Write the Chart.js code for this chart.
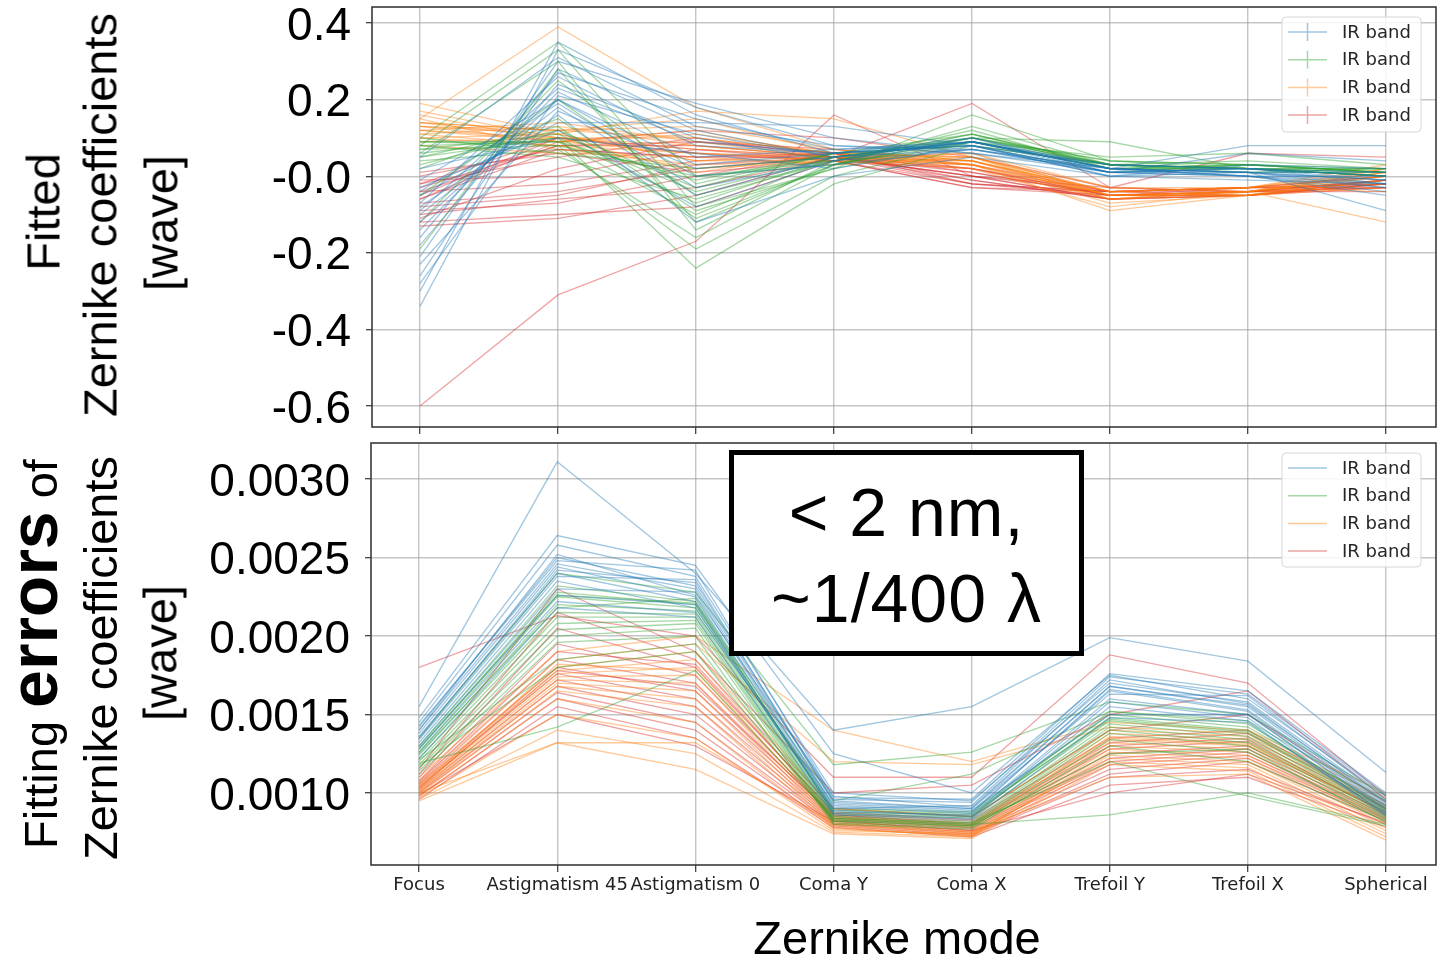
<!DOCTYPE html>
<html>
<head>
<meta charset="utf-8">
<script src="https://cdn.jsdelivr.net/npm/chart.js@4.4.0/dist/chart.umd.min.js"></script>
<style>
  html, body { margin:0; padding:0; background:#fff; }
  body { width:1441px; height:958px; position:relative; overflow:hidden; font-family:'Liberation Sans', Arial, sans-serif; }
  canvas { position:absolute; left:0; }
  #c1 { top:0; }
  #c2 { top:440px; }
  .ytitle { position:absolute; white-space:nowrap; font-size:47px; line-height:47px; color:#000;
            transform:translate(-50%,-50%) rotate(-90deg); }
  .ytitle b { font-size:68px; line-height:0; font-weight:bold; }
  #xtitle { position:absolute; left:897px; top:937px; transform:translate(-50%,-50%); font-size:47px; line-height:47px; white-space:nowrap; }
  #note { position:absolute; left:729px; top:450px; width:345px; height:196px; border:5px solid #000; background:#fff; }
  #note div { position:absolute; left:0; width:100%; text-align:center; font-size:68px; line-height:68px; letter-spacing:1px; white-space:nowrap; transform:translateY(-50%); }
</style>
</head>
<body>
<canvas id="c1" width="1441" height="440"></canvas>
<canvas id="c2" width="1441" height="518"></canvas>

<div class="ytitle" style="left:43px; top:212px;">Fitted</div>
<div class="ytitle" style="left:100px; top:215px;">Zernike coefficients</div>
<div class="ytitle" style="left:161px; top:223px;">[wave]</div>

<div class="ytitle" style="left:40px; top:654px;">Fitting <b>errors</b> of</div>
<div class="ytitle" style="left:100px; top:658px;">Zernike coefficients</div>
<div class="ytitle" style="left:160px; top:653px;">[wave]</div>

<div id="xtitle">Zernike mode</div>
<div id="note"><div style="top:57px;">&lt; 2 nm,</div><div style="top:143px;">~1/400 λ</div></div>

<script>
// ---------------- data ----------------
const categories = ['Focus', 'Astigmatism 45', 'Astigmatism 0', 'Coma Y', 'Coma X', 'Trefoil Y', 'Trefoil X', 'Spherical'];
const legendLabels = ['IR band', 'IR band', 'IR band', 'IR band'];

const topTickValues = [-0.6, -0.4, -0.2, 0.0, 0.2, 0.4];
const topTickLabels = ['-0.6', '-0.4', '-0.2', '-0.0', '0.2', '0.4'];
const botTickValues = [0.0010, 0.0015, 0.0020, 0.0025, 0.0030];
const botTickLabels = ['0.0010', '0.0015', '0.0020', '0.0025', '0.0030'];

// Fitted Zernike coefficients [wave]
const fitBlue = [
  [-0.34, 0.33, 0.18, 0.08, 0.07, 0.02, 0.01, -0.09],
  [-0.30, 0.35, 0.16, 0.06, 0.08, 0.01, 0.00, -0.05],
  [-0.26, 0.28, 0.12, 0.05, 0.09, 0.03, 0.02, -0.02],
  [-0.21, 0.30, 0.19, 0.10, 0.06, 0.02, 0.08, 0.08],
  [-0.18, 0.24, 0.10, 0.04, 0.10, 0.01, 0.06, 0.04],
  [-0.14, 0.22, 0.05, 0.07, 0.08, 0.00, 0.01, -0.01],
  [-0.12, 0.20, 0.00, 0.03, 0.07, 0.02, 0.00, -0.03],
  [-0.10, 0.18, -0.05, 0.05, 0.09, 0.01, 0.02, 0.00],
  [-0.08, 0.16, -0.12, 0.00, 0.05, 0.00, -0.01, -0.02],
  [-0.07, 0.26, 0.08, 0.06, 0.10, 0.02, 0.01, 0.01],
  [-0.05, 0.14, 0.14, 0.13, 0.08, 0.03, 0.02, 0.00],
  [-0.03, 0.12, -0.08, 0.04, 0.07, 0.01, 0.00, -0.04],
  [-0.01, 0.20, 0.03, 0.06, 0.09, 0.02, 0.01, -0.02],
  [0.02, 0.10, 0.06, 0.02, 0.08, 0.00, 0.03, 0.02],
  [0.05, 0.31, 0.13, 0.08, 0.06, 0.01, 0.02, -0.01],
  [-0.23, 0.17, 0.02, 0.05, 0.09, 0.02, 0.00, 0.00],
  [-0.16, 0.27, 0.15, 0.07, 0.09, 0.02, 0.01, -0.01],
  [-0.09, 0.23, 0.09, 0.06, 0.08, 0.01, 0.02, 0.01],
  [-0.04, 0.19, -0.03, 0.04, 0.09, 0.02, 0.00, -0.02],
  [-0.28, 0.21, 0.11, 0.05, 0.07, 0.01, 0.01, -0.03]
];
const fitGreen = [
  [0.10, 0.35, 0.00, 0.03, 0.13, 0.03, 0.02, 0.00],
  [0.08, 0.33, -0.08, 0.02, 0.16, 0.04, 0.03, 0.01],
  [0.06, 0.30, -0.14, 0.04, 0.10, 0.09, 0.02, 0.00],
  [0.05, 0.10, -0.24, -0.02, 0.08, 0.03, 0.01, 0.02],
  [0.07, 0.08, -0.19, 0.00, 0.09, 0.02, 0.02, 0.01],
  [0.04, 0.07, -0.16, 0.03, 0.10, 0.04, 0.03, 0.02],
  [0.09, 0.09, -0.10, 0.05, 0.09, 0.03, 0.02, 0.00],
  [0.08, 0.05, -0.06, 0.04, 0.11, 0.02, 0.01, 0.01],
  [0.03, 0.12, -0.03, 0.06, 0.08, 0.03, 0.04, 0.02],
  [0.10, 0.06, 0.02, 0.05, 0.10, 0.04, 0.02, 0.00],
  [0.02, 0.15, -0.09, 0.02, 0.09, 0.02, 0.03, 0.01],
  [-0.05, 0.20, -0.05, 0.04, 0.11, 0.03, 0.02, 0.02],
  [-0.12, 0.25, -0.02, 0.06, 0.08, 0.01, 0.03, 0.01],
  [-0.19, 0.28, -0.12, 0.03, 0.10, 0.03, 0.02, 0.00],
  [0.06, 0.10, -0.07, 0.05, 0.09, 0.05, 0.06, 0.03],
  [0.09, 0.08, 0.00, 0.04, 0.12, 0.02, 0.02, 0.01],
  [0.07, 0.11, -0.04, 0.05, 0.10, 0.03, 0.02, 0.02],
  [0.05, 0.13, -0.11, 0.03, 0.09, 0.02, 0.03, 0.01],
  [0.08, 0.09, -0.01, 0.06, 0.11, 0.03, 0.02, 0.00]
];
const fitOrange = [
  [0.19, 0.11, 0.17, 0.15, 0.05, -0.03, -0.04, -0.12],
  [0.15, 0.39, 0.18, 0.07, 0.04, -0.04, -0.03, -0.04],
  [0.14, 0.12, 0.15, 0.06, 0.03, -0.05, -0.05, -0.02],
  [0.13, 0.09, 0.12, 0.05, 0.02, -0.06, -0.04, 0.00],
  [0.12, 0.10, 0.10, 0.06, 0.05, -0.04, -0.03, 0.01],
  [0.11, 0.13, 0.08, 0.05, 0.04, -0.05, -0.04, 0.02],
  [0.10, 0.08, 0.06, 0.04, 0.03, -0.07, -0.05, -0.01],
  [0.13, 0.11, 0.04, 0.05, 0.06, -0.03, -0.03, 0.03],
  [0.15, 0.07, 0.03, 0.04, 0.02, -0.08, -0.04, -0.03],
  [0.09, 0.10, 0.01, 0.06, 0.05, -0.04, -0.05, 0.00],
  [0.12, 0.14, 0.09, 0.05, 0.04, -0.06, -0.03, -0.02],
  [0.16, 0.09, 0.11, 0.06, 0.03, -0.09, -0.05, -0.01],
  [0.08, 0.06, 0.05, 0.03, 0.05, -0.05, -0.04, 0.01],
  [0.14, 0.12, 0.13, 0.07, 0.04, -0.04, -0.03, 0.02],
  [0.11, 0.08, 0.02, 0.04, 0.06, -0.05, -0.04, 0.00],
  [0.17, 0.10, 0.07, 0.05, 0.03, -0.06, -0.05, -0.03],
  [0.13, 0.12, 0.10, 0.06, 0.04, -0.05, -0.04, 0.01],
  [0.12, 0.09, 0.06, 0.05, 0.05, -0.06, -0.04, -0.01],
  [0.14, 0.10, 0.08, 0.05, 0.03, -0.05, -0.05, 0.02],
  [0.10, 0.11, 0.04, 0.04, 0.04, -0.04, -0.03, 0.00]
];
const fitRed = [
  [-0.60, -0.31, -0.17, 0.16, 0.00, -0.04, -0.03, -0.02],
  [-0.13, -0.11, -0.05, 0.05, 0.19, -0.03, -0.04, -0.01],
  [-0.12, -0.10, -0.08, 0.04, -0.03, -0.05, -0.05, -0.02],
  [-0.10, -0.06, -0.03, 0.05, -0.02, -0.04, -0.03, 0.00],
  [-0.09, -0.07, 0.00, 0.06, -0.01, -0.06, -0.05, -0.03],
  [-0.07, -0.04, 0.02, 0.05, 0.00, -0.03, -0.04, -0.01],
  [-0.05, 0.10, 0.06, 0.04, 0.02, -0.05, -0.05, -0.02],
  [-0.04, -0.02, 0.04, 0.06, -0.02, -0.04, -0.03, 0.00],
  [-0.03, 0.08, 0.08, 0.05, 0.01, -0.05, -0.04, -0.03],
  [-0.02, 0.05, 0.10, 0.05, 0.00, -0.06, -0.05, -0.01],
  [-0.01, 0.00, 0.07, 0.04, -0.03, -0.04, -0.03, -0.02],
  [0.00, 0.07, 0.05, 0.06, 0.02, -0.05, -0.04, -0.04],
  [-0.06, 0.09, 0.12, 0.10, 0.05, -0.03, 0.06, 0.05],
  [-0.08, -0.05, 0.03, 0.05, -0.01, -0.06, -0.05, -0.02],
  [-0.11, 0.02, 0.09, 0.07, 0.03, -0.04, -0.04, -0.01],
  [0.01, 0.06, 0.01, 0.04, -0.02, -0.05, -0.03, -0.03],
  [-0.04, 0.08, 0.09, 0.06, 0.01, -0.05, -0.04, -0.02],
  [-0.02, 0.10, 0.07, 0.05, 0.02, -0.04, -0.05, -0.01],
  [-0.06, 0.07, 0.05, 0.05, 0.00, -0.06, -0.04, -0.03]
];

// Fitting errors of Zernike coefficients [wave]
const errBlue = [
  [0.00155, 0.00311, 0.00240, 0.00140, 0.00155, 0.00199, 0.00184, 0.00113],
  [0.00148, 0.00264, 0.00245, 0.00125, 0.00100, 0.00175, 0.00160, 0.00098],
  [0.00145, 0.00258, 0.00238, 0.00100, 0.00095, 0.00170, 0.00158, 0.00095],
  [0.00142, 0.00250, 0.00232, 0.00095, 0.00090, 0.00168, 0.00155, 0.00092],
  [0.00140, 0.00246, 0.00230, 0.00092, 0.00088, 0.00165, 0.00152, 0.00090],
  [0.00138, 0.00244, 0.00225, 0.00090, 0.00092, 0.00172, 0.00157, 0.00093],
  [0.00136, 0.00240, 0.00222, 0.00088, 0.00086, 0.00160, 0.00150, 0.00088],
  [0.00134, 0.00238, 0.00236, 0.00094, 0.00090, 0.00163, 0.00162, 0.00096],
  [0.00132, 0.00235, 0.00218, 0.00089, 0.00085, 0.00158, 0.00148, 0.00086],
  [0.00130, 0.00230, 0.00228, 0.00091, 0.00087, 0.00166, 0.00153, 0.00091],
  [0.00128, 0.00226, 0.00220, 0.00087, 0.00084, 0.00155, 0.00146, 0.00085],
  [0.00126, 0.00222, 0.00215, 0.00093, 0.00089, 0.00150, 0.00150, 0.00089],
  [0.00135, 0.00242, 0.00234, 0.00096, 0.00094, 0.00174, 0.00163, 0.00099],
  [0.00140, 0.00252, 0.00226, 0.00098, 0.00091, 0.00168, 0.00156, 0.00094],
  [0.00122, 0.00218, 0.00212, 0.00086, 0.00083, 0.00148, 0.00145, 0.00087],
  [0.00143, 0.00248, 0.00242, 0.00097, 0.00096, 0.00176, 0.00165, 0.00100]
];
const errGreen = [
  [0.00135, 0.00240, 0.00228, 0.00118, 0.00126, 0.00158, 0.00150, 0.00098],
  [0.00130, 0.00232, 0.00222, 0.00095, 0.00112, 0.00152, 0.00146, 0.00095],
  [0.00128, 0.00228, 0.00220, 0.00090, 0.00088, 0.00150, 0.00142, 0.00092],
  [0.00126, 0.00225, 0.00218, 0.00088, 0.00086, 0.00148, 0.00140, 0.00090],
  [0.00124, 0.00220, 0.00216, 0.00086, 0.00084, 0.00146, 0.00138, 0.00088],
  [0.00122, 0.00215, 0.00214, 0.00085, 0.00082, 0.00144, 0.00136, 0.00087],
  [0.00120, 0.00212, 0.00212, 0.00084, 0.00081, 0.00142, 0.00134, 0.00086],
  [0.00118, 0.00208, 0.00210, 0.00083, 0.00080, 0.00140, 0.00132, 0.00085],
  [0.00116, 0.00204, 0.00208, 0.00082, 0.00079, 0.00138, 0.00130, 0.00084],
  [0.00114, 0.00200, 0.00205, 0.00081, 0.00078, 0.00134, 0.00126, 0.00083],
  [0.00112, 0.00196, 0.00200, 0.00080, 0.00077, 0.00130, 0.00120, 0.00082],
  [0.00121, 0.00185, 0.00195, 0.00083, 0.00080, 0.00086, 0.00100, 0.00080],
  [0.00119, 0.00142, 0.00178, 0.00084, 0.00081, 0.00120, 0.00098, 0.00079],
  [0.00125, 0.00218, 0.00224, 0.00087, 0.00085, 0.00152, 0.00144, 0.00090],
  [0.00117, 0.00180, 0.00190, 0.00082, 0.00079, 0.00125, 0.00128, 0.00081],
  [0.00129, 0.00226, 0.00221, 0.00089, 0.00087, 0.00147, 0.00139, 0.00089]
];
const errOrange = [
  [0.00110, 0.00190, 0.00200, 0.00140, 0.00120, 0.00145, 0.00140, 0.00100],
  [0.00108, 0.00185, 0.00195, 0.00120, 0.00118, 0.00142, 0.00138, 0.00097],
  [0.00106, 0.00180, 0.00190, 0.00090, 0.00085, 0.00140, 0.00136, 0.00095],
  [0.00105, 0.00178, 0.00185, 0.00085, 0.00080, 0.00138, 0.00134, 0.00092],
  [0.00104, 0.00176, 0.00180, 0.00083, 0.00078, 0.00136, 0.00132, 0.00090],
  [0.00103, 0.00174, 0.00175, 0.00082, 0.00076, 0.00134, 0.00130, 0.00088],
  [0.00102, 0.00172, 0.00170, 0.00081, 0.00075, 0.00132, 0.00128, 0.00086],
  [0.00101, 0.00170, 0.00165, 0.00080, 0.00074, 0.00130, 0.00126, 0.00084],
  [0.00100, 0.00168, 0.00160, 0.00079, 0.00073, 0.00128, 0.00124, 0.00082],
  [0.00099, 0.00165, 0.00155, 0.00078, 0.00072, 0.00126, 0.00122, 0.00080],
  [0.00098, 0.00160, 0.00145, 0.00077, 0.00073, 0.00124, 0.00120, 0.00078],
  [0.00097, 0.00150, 0.00135, 0.00076, 0.00074, 0.00122, 0.00118, 0.00076],
  [0.00096, 0.00140, 0.00125, 0.00075, 0.00072, 0.00120, 0.00116, 0.00074],
  [0.00095, 0.00132, 0.00115, 0.00074, 0.00071, 0.00118, 0.00114, 0.00072],
  [0.00100, 0.00132, 0.00132, 0.00080, 0.00075, 0.00110, 0.00112, 0.00070],
  [0.00103, 0.00182, 0.00178, 0.00084, 0.00079, 0.00135, 0.00131, 0.00089]
];
const errRed = [
  [0.00180, 0.00213, 0.00200, 0.00110, 0.00110, 0.00188, 0.00170, 0.00098],
  [0.00115, 0.00230, 0.00190, 0.00100, 0.00105, 0.00150, 0.00165, 0.00096],
  [0.00112, 0.00215, 0.00185, 0.00090, 0.00085, 0.00140, 0.00150, 0.00094],
  [0.00110, 0.00205, 0.00180, 0.00088, 0.00083, 0.00135, 0.00140, 0.00092],
  [0.00108, 0.00195, 0.00175, 0.00086, 0.00081, 0.00130, 0.00135, 0.00090],
  [0.00106, 0.00185, 0.00170, 0.00085, 0.00079, 0.00125, 0.00130, 0.00088],
  [0.00105, 0.00180, 0.00165, 0.00084, 0.00078, 0.00122, 0.00128, 0.00086],
  [0.00104, 0.00176, 0.00160, 0.00083, 0.00077, 0.00120, 0.00126, 0.00085],
  [0.00102, 0.00172, 0.00155, 0.00082, 0.00076, 0.00118, 0.00124, 0.00084],
  [0.00101, 0.00168, 0.00150, 0.00081, 0.00075, 0.00115, 0.00122, 0.00083],
  [0.00100, 0.00164, 0.00145, 0.00080, 0.00074, 0.00112, 0.00120, 0.00082],
  [0.00098, 0.00160, 0.00140, 0.00079, 0.00073, 0.00110, 0.00115, 0.00080],
  [0.00096, 0.00155, 0.00135, 0.00078, 0.00072, 0.00105, 0.00110, 0.00078],
  [0.00099, 0.00150, 0.00130, 0.00082, 0.00076, 0.00100, 0.00112, 0.00081],
  [0.00103, 0.00178, 0.00168, 0.00086, 0.00080, 0.00128, 0.00133, 0.00087],
  [0.00107, 0.00190, 0.00182, 0.00087, 0.00082, 0.00132, 0.00138, 0.00091]
];

// ---------------- styles ----------------
const bandColors = ['rgba(31,119,180,0.42)', 'rgba(44,160,44,0.42)', 'rgba(255,127,14,0.42)', 'rgba(214,39,40,0.42)'];
const GRID = 'rgba(150,150,150,0.55)';

function makeSets(groups) {
  const sets = [];
  groups.forEach((rows, gi) => {
    rows.forEach(r => {
      sets.push({
        data: r.map((v, i) => ({ x: i, y: v })),
        borderColor: bandColors[gi],
        borderWidth: 1.3,
        pointRadius: 0,
        pointHoverRadius: 0,
        tension: 0,
        fill: false
      });
    });
  });
  return sets;
}

const framePlugin = {
  id: 'frame',
  afterDatasetsDraw(chart) {
    const { ctx, chartArea: a } = chart;
    ctx.save();
    ctx.strokeStyle = '#3a3a3a';
    ctx.lineWidth = 1.6;
    ctx.strokeRect(a.left, a.top, a.right - a.left, a.bottom - a.top);
    ctx.restore();
  }
};

const boxLegendPlugin = {
  id: 'boxLegend',
  afterDraw(chart, args, o) {
    const ctx = chart.ctx;
    ctx.save();
    const r = 4, x = o.x, y = o.y, w = o.w, h = o.h;
    ctx.beginPath();
    ctx.moveTo(x + r, y);
    ctx.lineTo(x + w - r, y); ctx.quadraticCurveTo(x + w, y, x + w, y + r);
    ctx.lineTo(x + w, y + h - r); ctx.quadraticCurveTo(x + w, y + h, x + w - r, y + h);
    ctx.lineTo(x + r, y + h); ctx.quadraticCurveTo(x, y + h, x, y + h - r);
    ctx.lineTo(x, y + r); ctx.quadraticCurveTo(x, y, x + r, y);
    ctx.closePath();
    ctx.fillStyle = 'rgba(255,255,255,0.85)';
    ctx.fill();
    ctx.strokeStyle = '#d6d6d6';
    ctx.lineWidth = 1;
    ctx.stroke();
    ctx.font = '18px "DejaVu Sans"';
    ctx.textBaseline = 'middle';
    ctx.fillStyle = '#262626';
    legendLabels.forEach((lab, i) => {
      const yy = y + 15 + i * 27.7;
      ctx.strokeStyle = bandColors[i];
      ctx.lineWidth = 1.5;
      ctx.beginPath();
      ctx.moveTo(x + 6, yy); ctx.lineTo(x + 45, yy);
      if (o.cross) { ctx.moveTo(x + 25.5, yy - 9); ctx.lineTo(x + 25.5, yy + 9); }
      ctx.stroke();
      ctx.fillText(lab, x + 60, yy + 1);
    });
    ctx.restore();
  }
};

function makeChart(id, groups, yMin, yMax, tickVals, tickLabels, showX, legendPos, padTop, yWidth, xHeight) {
  return new Chart(document.getElementById(id), {
    type: 'line',
    data: { datasets: makeSets(groups) },
    plugins: [framePlugin, boxLegendPlugin],
    options: {
      responsive: false,
      animation: false,
      events: [],
      layout: { padding: { top: padTop, right: 5, left: 0, bottom: 0 } },
      plugins: {
        legend: { display: false },
        tooltip: { enabled: false },
        boxLegend: legendPos
      },
      scales: {
        x: {
          type: 'linear',
          min: -0.348,
          max: 7.362,
          afterBuildTicks: s => { s.ticks = categories.map((c, i) => ({ value: i })); },
          afterFit: s => { s.height = xHeight; s.paddingLeft = 0; s.paddingRight = 0; },
          border: { display: false },
          grid: { color: GRID, lineWidth: 1.4, drawTicks: true, tickLength: 7, tickColor: '#333', tickWidth: 1.2 },
          ticks: {
            display: showX,
            autoSkip: false,
            minRotation: 0,
            maxRotation: 0,
            padding: 3,
            color: '#222',
            font: { family: 'DejaVu Sans', size: 18 },
            callback: (v, i) => categories[i]
          }
        },
        y: {
          min: yMin,
          max: yMax,
          afterBuildTicks: s => { s.ticks = tickVals.map(v => ({ value: v })); },
          afterFit: s => { s.width = yWidth; s.paddingTop = 0; s.paddingBottom = 0; },
          border: { display: false },
          grid: { color: GRID, lineWidth: 1.4, drawTicks: true, tickLength: 6, tickColor: '#333', tickWidth: 1.2 },
          ticks: {
            autoSkip: false,
            padding: 15,
            labelOffset: 4,
            color: '#000',
            font: { family: '"Liberation Sans", Arial', size: 46 },
            callback: (v, i) => tickLabels[i]
          }
        }
      }
    }
  });
}

makeChart('c1', [fitBlue, fitGreen, fitOrange, fitRed], -0.655, 0.442, topTickValues, topTickLabels, false,
  { x: 1282, y: 17, w: 139, h: 115, cross: true }, 7, 372, 13);
makeChart('c2', [errBlue, errGreen, errOrange, errRed], 0.000541, 0.00323, botTickValues, botTickLabels, true,
  { x: 1282, y: 13, w: 139, h: 114, cross: false }, 3, 371, 93);
</script>
</body>
</html>
